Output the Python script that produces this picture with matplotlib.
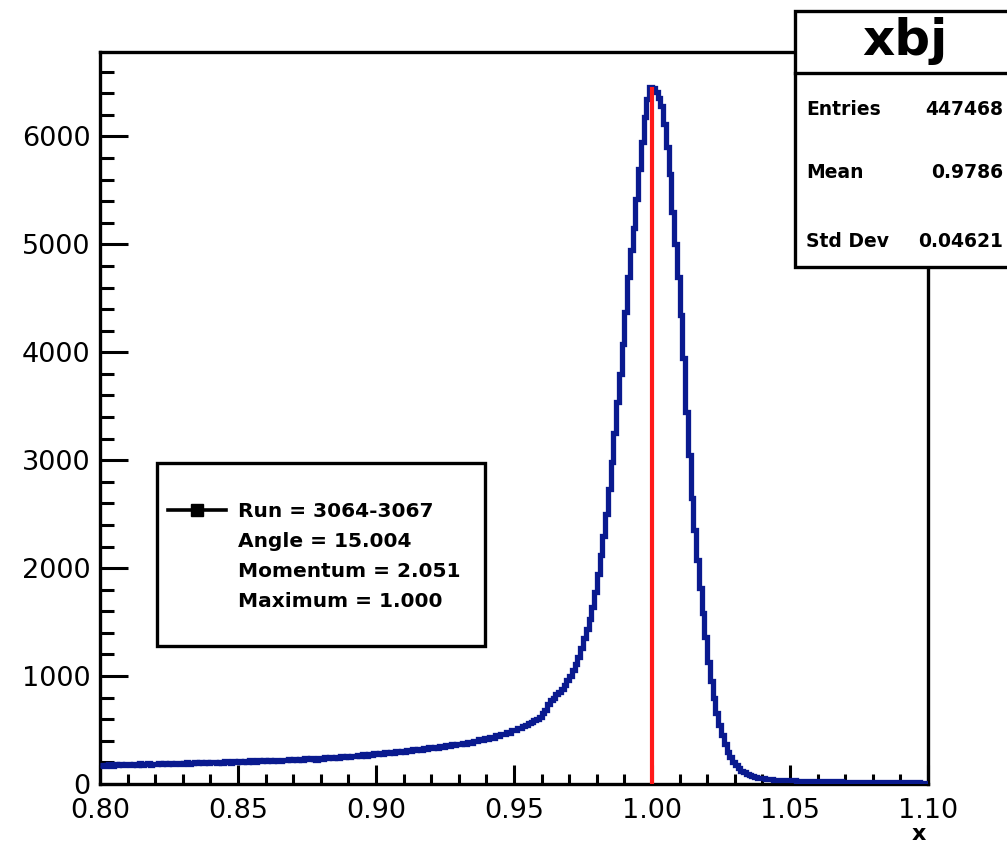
import numpy as np
import matplotlib
matplotlib.use("Agg")
import matplotlib.pyplot as plt
from matplotlib.patches import Rectangle
from matplotlib.lines import Line2D
from matplotlib.ticker import MultipleLocator, FormatStrFormatter

# ---------------- data ----------------
x_min, x_max = 0.80, 1.10
counts = [
    # 0.800 - 0.850
    178, 168, 176, 185, 170, 182, 174, 186, 176, 183,
    188, 174, 184, 178, 190, 180, 186, 192, 180, 189,
    183, 194, 185, 192, 181, 196, 187, 193, 198, 186,
    194, 200, 189, 197, 203, 191, 200, 194, 205, 196,
    201, 208, 194, 206, 198, 211, 202, 196, 212, 204,
    # 0.850 - 0.900
    211, 201, 214, 206, 218, 208, 202, 219, 210, 221,
    211, 222, 213, 225, 215, 209, 227, 218, 229, 220,
    230, 220, 234, 224, 237, 228, 240, 231, 225, 244,
    235, 246, 237, 250, 240, 253, 244, 257, 247, 261,
    251, 264, 255, 268, 258, 274, 263, 277, 267, 285,
    # 0.900 - 0.950
    276, 289, 279, 294, 284, 299, 289, 303, 294, 309,
    300, 314, 305, 320, 311, 326, 317, 333, 323, 339,
    330, 346, 337, 352, 344, 360, 351, 367, 359, 375,
    367, 384, 375, 393, 384, 402, 394, 413, 405, 424,
    417, 437, 430, 451, 444, 466, 460, 483, 477, 501,
    # 0.950 - 1.000
    497, 517, 519, 540, 543, 565, 570, 594, 600, 625,
    660, 690, 740, 775, 800, 830, 850, 880, 920, 965,
    1000, 1060, 1110, 1180, 1260, 1350, 1440, 1530, 1640, 1780,
    1950, 2120, 2300, 2500, 2730, 2980, 3250, 3540, 3800, 4080,
    4370, 4700, 4950, 5150, 5420, 5700, 5950, 6180, 6350, 6460,
    # 1.000 - 1.050
    6450, 6410, 6360, 6280, 6120, 5900, 5650, 5300, 5000, 4700,
    4350, 3950, 3450, 3050, 2650, 2350, 2080, 1820, 1580, 1360,
    1130, 950, 800, 660, 550, 450, 370, 300, 250, 205,
    175, 148, 125, 107, 92, 80, 71, 64, 58, 54,
    51, 48, 45, 43, 41, 40, 38, 37, 36, 35,
    # 1.050 - 1.100
    34, 33, 32, 32, 31, 30, 29, 29, 28, 28,
    27, 27, 26, 26, 25, 25, 24, 24, 24, 23,
    23, 22, 22, 22, 21, 21, 20, 20, 20, 19,
    19, 19, 18, 18, 18, 17, 17, 17, 16, 16,
    16, 15, 15, 15, 14, 14, 14, 13, 13, 13,
]
maximum_x = 1.000

hist_title = "xbj"
stats_labels = ["Entries", "Mean", "Std Dev"]
stats_values = ["447468", "0.9786", "0.04621"]
legend_lines = ["Run = 3064-3067", "Angle = 15.004", "Momentum = 2.051", "Maximum = 1.000"]
x_label = "x"

# ---------------- figure ----------------
W, H = 1007, 843
fig = plt.figure(figsize=(W / 100, H / 100), dpi=100)
fig.patch.set_facecolor("white")

def fx(px):
    return px / W

def fy(py):
    return 1 - py / H

ax_l, ax_r, ax_t, ax_b = 100, 928, 52, 784
ax = fig.add_axes([fx(ax_l), fy(ax_b), fx(ax_r - ax_l), (ax_b - ax_t) / H])

edges = np.linspace(x_min, x_max, len(counts) + 1)
ax.stairs(counts, edges, color="#0a1a8f", linewidth=3.8, baseline=None, zorder=3)
ax.vlines(maximum_x, 0, max(counts), color="#ff1a1a", linewidth=3.0, zorder=4)

ax.set_xlim(x_min, x_max)
ax.set_ylim(0, 1.05 * max(counts))

ax.xaxis.set_major_locator(MultipleLocator(0.05))
ax.xaxis.set_minor_locator(MultipleLocator(0.01))
ax.xaxis.set_major_formatter(FormatStrFormatter("%.2f"))
ax.yaxis.set_major_locator(MultipleLocator(1000))
ax.yaxis.set_minor_locator(MultipleLocator(200))

for sp in ax.spines.values():
    sp.set_linewidth(2.4)
    sp.set_color("black")

ax.tick_params(axis="both", which="both", direction="in", top=False, right=False,
               width=2.2, color="black")
ax.tick_params(axis="x", which="major", length=14, pad=10, labelsize=19.5)
ax.tick_params(axis="x", which="minor", length=7.5)
ax.tick_params(axis="y", which="major", length=20, pad=7, labelsize=19.5)
ax.tick_params(axis="y", which="minor", length=10)
for lab in ax.get_xticklabels() + ax.get_yticklabels():
    lab.set_fontfamily("DejaVu Sans")

# x label
fig.text(fx(926), fy(840), x_label, ha="right", va="baseline", fontsize=16,
         fontweight="bold", family="DejaVu Sans")

# ---------------- stats box ----------------
sb_l, sb_r, sb_t, sb_b, sb_sep = 795, 1022, 11, 267, 73
fig.patches.append(Rectangle((fx(sb_l), fy(sb_b)), fx(sb_r - sb_l), (sb_b - sb_t) / H,
                             transform=fig.transFigure, facecolor="white",
                             edgecolor="black", linewidth=2.4, zorder=10, clip_on=False))
fig.lines.append(Line2D([fx(sb_l), fx(sb_r)], [fy(sb_sep), fy(sb_sep)],
                        transform=fig.transFigure, color="black", linewidth=2.4, zorder=11))
fig.text(fx(905), fy(55), hist_title, ha="center", va="baseline", fontsize=36,
         fontweight="bold", family="DejaVu Sans", zorder=12)
stat_baselines = [115, 178, 247]
for lab, val, b in zip(stats_labels, stats_values, stat_baselines):
    fig.text(fx(806), fy(b), lab, ha="left", va="baseline", fontsize=13.5,
             fontweight="bold", family="DejaVu Sans", zorder=12)
    fig.text(fx(1003), fy(b), val, ha="right", va="baseline", fontsize=13.5,
             fontweight="bold", family="DejaVu Sans", zorder=12)

# ---------------- legend box ----------------
lg_l, lg_r, lg_t, lg_b = 157, 485, 463, 646
fig.patches.append(Rectangle((fx(lg_l), fy(lg_b)), fx(lg_r - lg_l), (lg_b - lg_t) / H,
                             transform=fig.transFigure, facecolor="white",
                             edgecolor="black", linewidth=2.4, zorder=10))
fig.lines.append(Line2D([fx(168), fx(226)], [fy(510), fy(510)], transform=fig.transFigure,
                        color="black", linewidth=2.6, zorder=11))
fig.lines.append(Line2D([fx(197)], [fy(510)], transform=fig.transFigure, marker="s",
                        markersize=9, color="black", linestyle="none", zorder=11))
leg_baselines = [517, 547, 577, 607]
for txt, b in zip(legend_lines, leg_baselines):
    fig.text(fx(238), fy(b), txt, ha="left", va="baseline", fontsize=14.5,
             fontweight="bold", family="DejaVu Sans", zorder=12)

fig.savefig("out.png", dpi=100, facecolor="white")
